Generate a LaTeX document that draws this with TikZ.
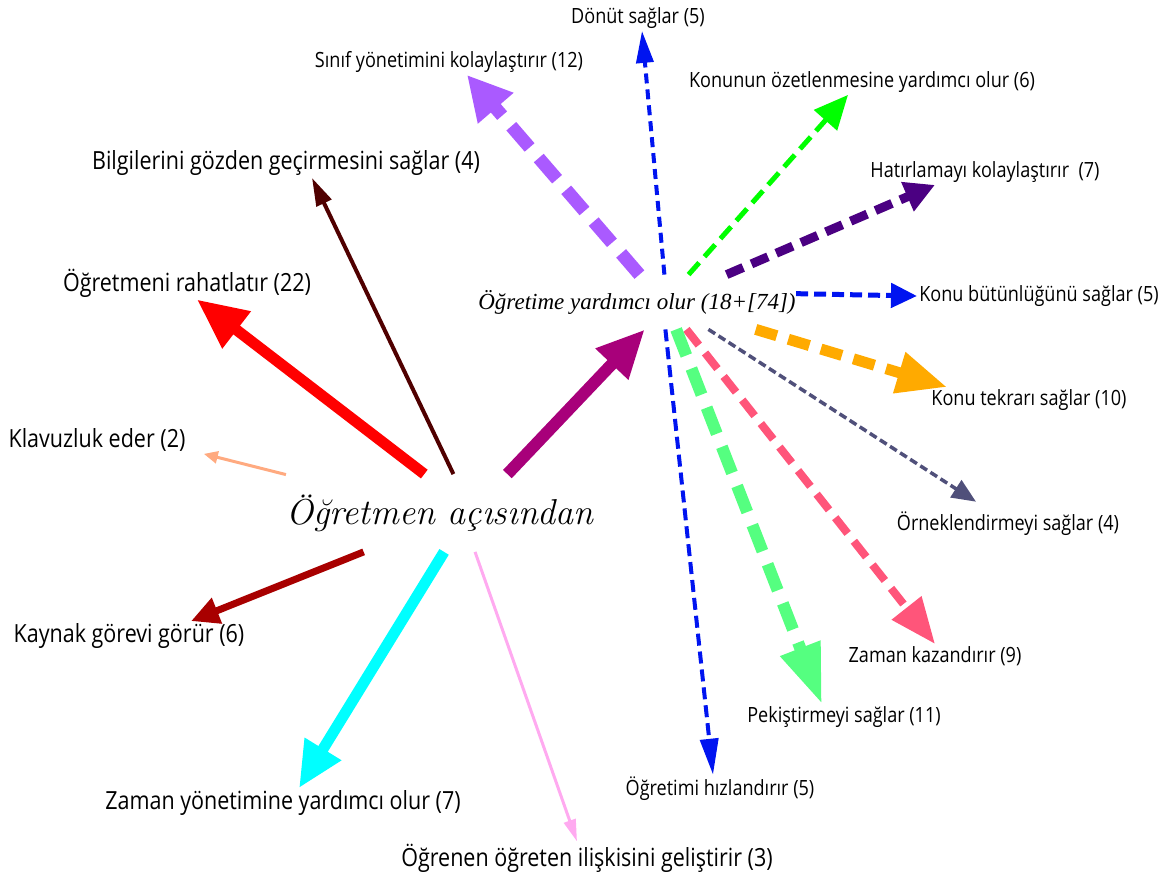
\documentclass[tikz,border=0pt]{standalone}
\usepackage{fontspec}
\usetikzlibrary{arrows.meta}
\newfontfamily\labfont{Open Sans}[FakeStretch=0.86]
\newfontfamily\hubfont{Liberation Serif}

\definecolor{salmon}{RGB}{255,170,128}
\definecolor{brownish}{RGB}{80,0,0}
\definecolor{plum}{RGB}{168,0,122}
\definecolor{darkred}{RGB}{168,0,0}
\definecolor{aqua}{RGB}{0,255,255}
\definecolor{lightpink}{RGB}{255,170,240}
\definecolor{lilac}{RGB}{170,90,255}
\definecolor{deepblue}{RGB}{0,20,240}
\definecolor{indigo}{RGB}{75,0,130}
\definecolor{amber}{RGB}{255,170,0}
\definecolor{slate}{RGB}{80,80,122}
\definecolor{rose}{RGB}{255,85,122}
\definecolor{mint}{RGB}{85,255,128}

\tikzset{
  biglab/.style={font=\labfont\fontsize{12.5}{14}\selectfont, inner sep=1pt},
  smalllab/.style={font=\labfont\fontsize{10.5}{12}\selectfont, inner sep=1pt},
  arr/.style n args={3}{line width=#1, -{Triangle[length=#2, width=#3]}},
}

\begin{document}
\begin{tikzpicture}[x=0.5pt, y=-0.5pt]
  \useasboundingbox (0,0) rectangle (1170,881);

  % the two hubs
  \node[inner sep=0pt, minimum width=150pt, minimum height=38.5pt,
        font=\itshape\fontsize{18}{22}\selectfont] (main) at (440,513) {Öğretmen açısından};
  \node[inner sep=0pt, minimum width=157pt, minimum height=27pt,
        font=\hubfont\itshape\fontsize{11.5}{14}\selectfont] (sub) at (637,302) {Öğretime yardımcı olur (18+[74])};

  % labels on the left
  \node[biglab] (bil) at (286,163) {Bilgilerini gözden geçirmesini sağlar (4)};
  \node[biglab] (oer) at (187,283) {Öğretmeni rahatlatır (22)};
  \node[biglab] (klav) at (97,440) {Klavuzluk eder (2)};
  \node[biglab] (kay) at (129,636) {Kaynak görevi görür (6)};
  \node[biglab] (zy) at (283,803) {Zaman yönetimine yardımcı olur (7)};
  \node[biglab] (oo) at (587,858) {Öğrenen öğreten ilişkisini geliştirir (3)};

  % labels on the right
  \node[smalllab] (don) at (638,18) {Dönüt sağlar (5)};
  \node[smalllab] (sin) at (449,62) {Sınıf yönetimini kolaylaştırır (12)};
  \node[smalllab] (kon) at (862,82) {Konunun özetlenmesine yardımcı olur (6)};
  \node[smalllab] (hat) at (985,172) {Hatırlamayı kolaylaştırır~ (7)};
  \node[smalllab] (kb) at (1039,296) {Konu bütünlüğünü sağlar (5)};
  \node[smalllab] (kt) at (1029,400) {Konu tekrarı sağlar (10)};
  \node[smalllab] (orn) at (1008,524) {Örneklendirmeyi sağlar (4)};
  \node[smalllab] (zk) at (935,656) {Zaman kazandırır (9)};
  \node[smalllab] (pek) at (844,717) {Pekiştirmeyi sağlar (11)};
  \node[smalllab] (oh) at (720,789) {Öğretimi hızlandırır (5)};

  % solid arrows out of the main hub
  \draw[arr={1.5pt}{7pt}{6pt}, salmon] (main.166) -- ([xshift=8pt]klav.south east);
  \draw[arr={5.5pt}{25pt}{22pt}, red] (main.112) -- ([xshift=5pt]oer.south);
  \draw[arr={2pt}{14pt}{8pt}, brownish] (main.71) -- ([xshift=13pt]bil.south);
  \draw[arr={6pt}{24pt}{21pt}, plum] (main.30) -- (sub.286);
  \draw[arr={3.5pt}{14pt}{13pt}, darkred] (main.207) -- ([xshift=31pt]kay.north);
  \draw[arr={5.5pt}{23pt}{20pt}, aqua] (main.276) -- ([xshift=8pt]zy.north);
  \draw[arr={1.5pt}{11pt}{6pt}, lightpink] (main.312) -- ([xshift=-5pt]oo.north);

  % dashed arrows out of the second hub
  \draw[arr={2pt}{16pt}{8.5pt}, deepblue, dash pattern=on 5pt off 3pt] (sub.45) -- ([xshift=2pt]don.south);
  \draw[arr={6.5pt}{22pt}{22pt}, lilac, dash pattern=on 14pt off 7pt] (sub.85) -- ([xshift=9pt]sin.south);
  \draw[arr={2.5pt}{17pt}{15pt}, green, dash pattern=on 8pt off 4pt] (sub.28) -- ([xshift=-7pt]kon.south);
  \draw[arr={4.5pt}{15pt}{15pt}, indigo, dash pattern=on 9pt off 4.5pt] (sub.17) -- ([xshift=-25pt]hat.south);
  \draw[arr={2.5pt}{13pt}{12pt}, deepblue, dash pattern=on 6pt off 3pt] (sub.3) -- (kb.west);
  \draw[arr={5.5pt}{25pt}{20pt}, amber, dash pattern=on 11pt off 6pt] (sub.347) -- ([xshift=9pt]kt.north west);
  \draw[arr={1.75pt}{12pt}{10pt}, slate, dash pattern=on 4pt off 2pt] (sub.339) -- ([xshift=-16pt,yshift=4pt]orn.north);
  \draw[arr={4pt}{23pt}{18pt}, rose, dash pattern=on 10pt off 5pt] (sub.331) -- (zk.north);
  \draw[arr={6pt}{30pt}{20pt}, mint, dash pattern=on 14pt off 7pt] (sub.325) -- ([xshift=-11pt]pek.north);
  \draw[arr={2pt}{18pt}{9pt}, deepblue, dash pattern=on 6pt off 3pt] (sub.316) -- ([xshift=-3.5pt]oh.north);
\end{tikzpicture}
\end{document}
